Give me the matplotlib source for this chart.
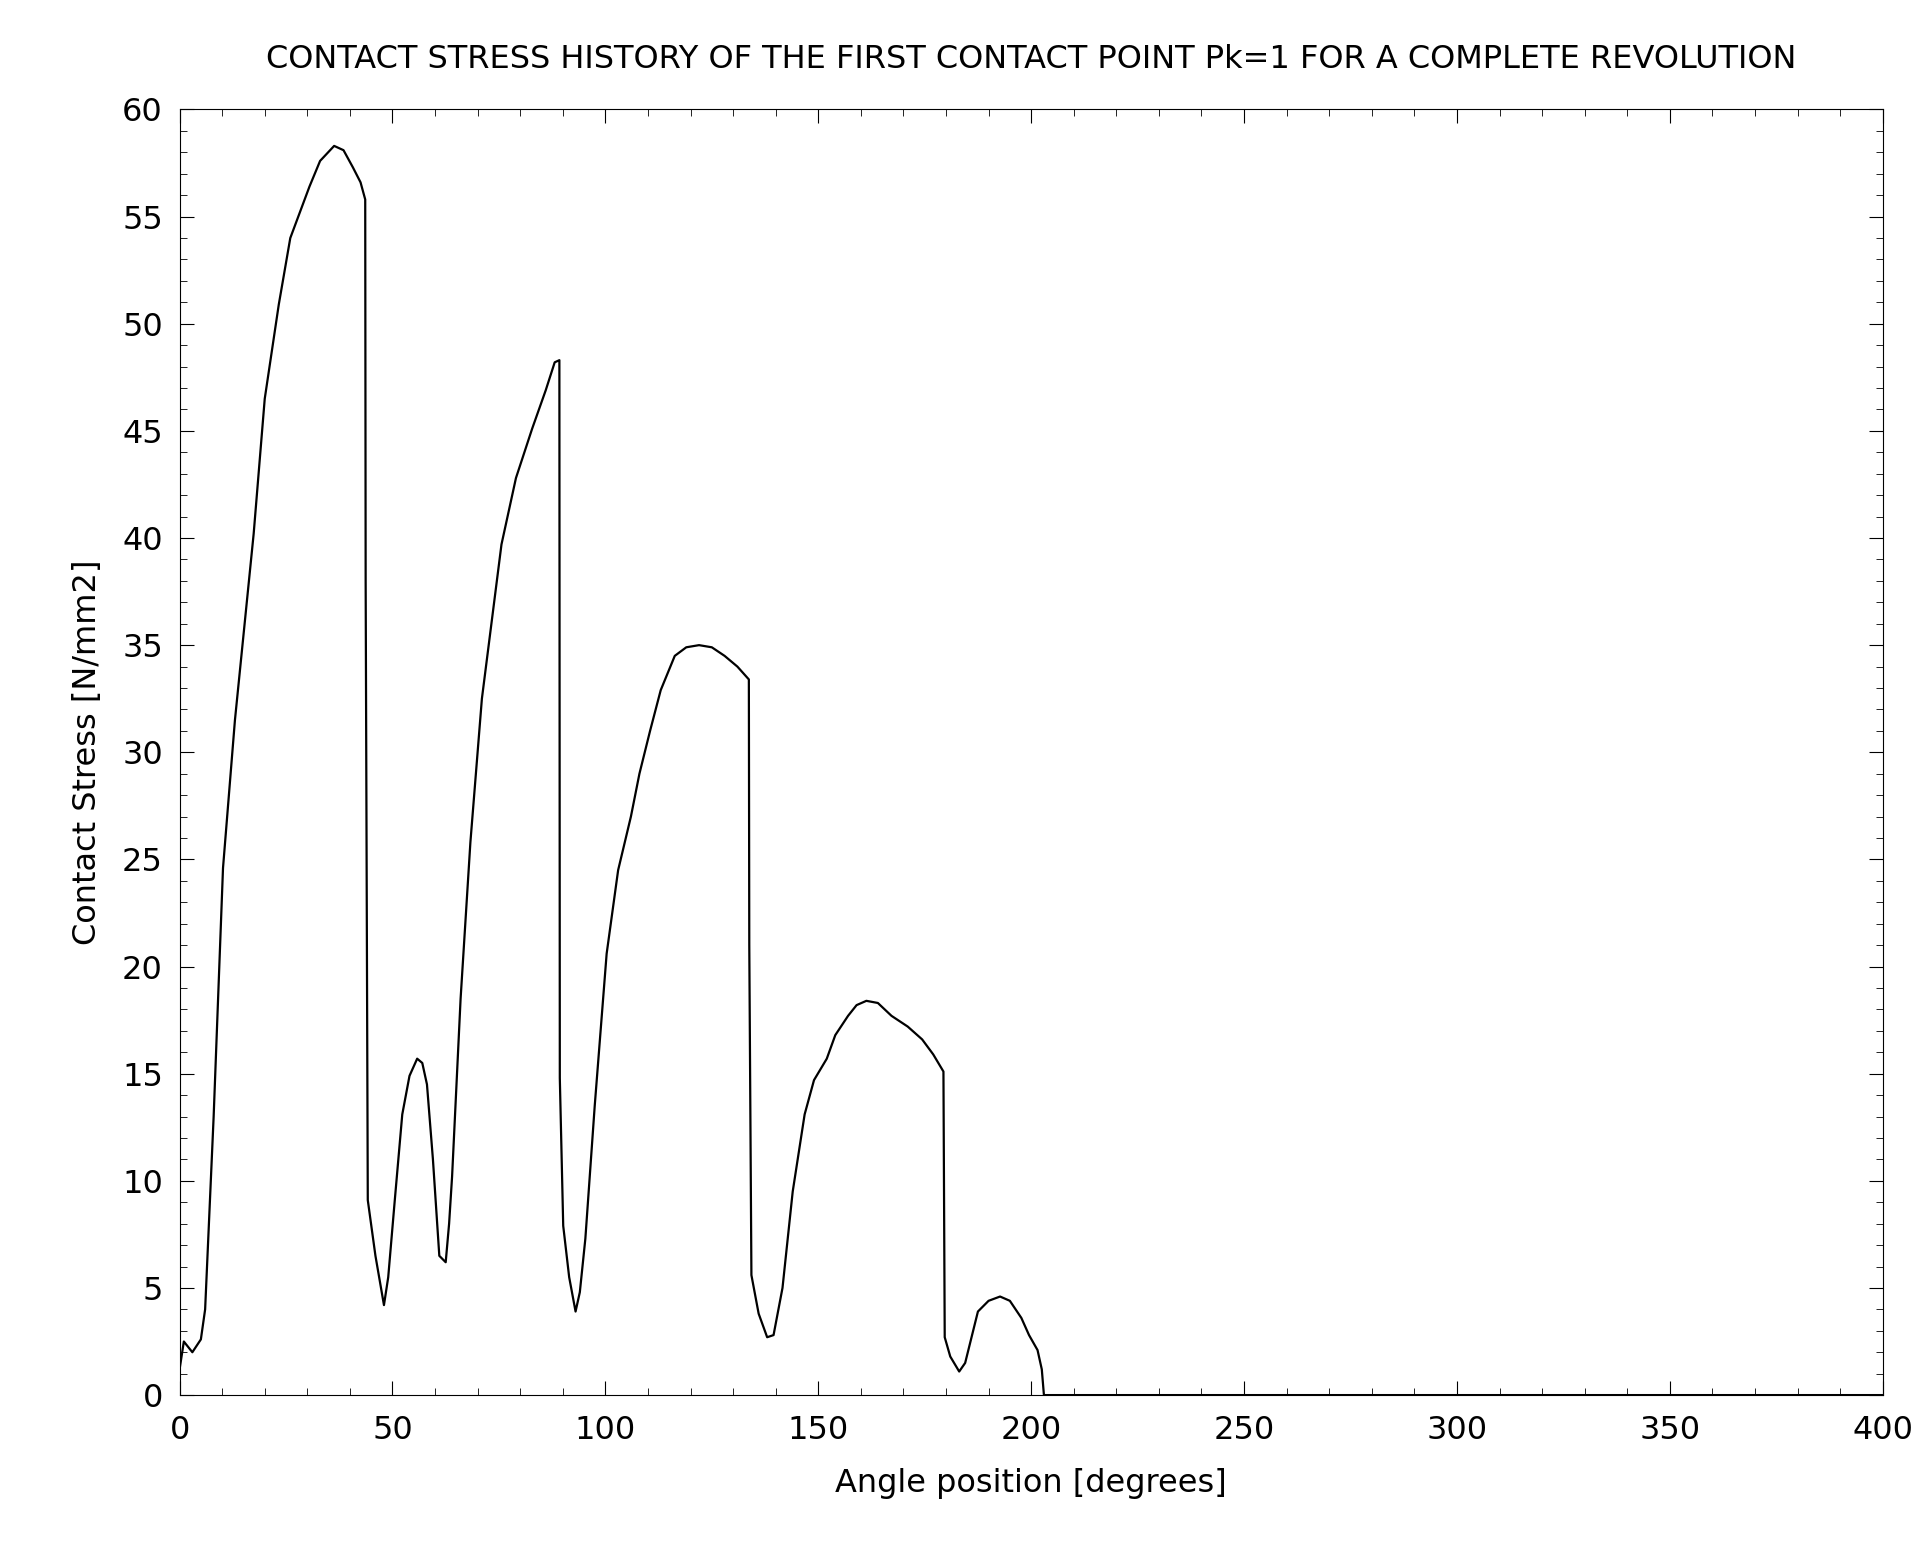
import matplotlib.pyplot as plt
from matplotlib.ticker import MultipleLocator

# angle [deg] and contact stress [N/mm2]
angle = [0, 1, 3, 5, 6, 8, 10.2, 13, 17.4, 20, 23.3, 26, 30.5, 33, 36.3, 38.5, 40.7,
         42.5, 43.6, 43.7, 44.2, 46, 48, 49, 50.5, 52.3, 54, 55.8, 57, 58.1, 59.5,
         61, 62.5, 63.3, 64, 66, 68.3, 71, 75.6, 79, 82.8, 86, 88.1, 89.2, 89.3,
         90.1, 91.5, 93, 94, 95.3, 97.5, 100.3, 103, 106, 108, 110.5, 113, 116.3,
         119, 122, 125, 128, 131, 133.7, 133.8, 134.3, 136, 138, 139.5, 141.6, 144,
         146.8, 149, 152, 154, 157, 159, 161.3, 164, 167.2, 171, 174.4, 177, 179.4,
         179.7, 181, 183.1, 184.5, 187.5, 190, 192.7, 195, 197.7, 199.5, 201.5,
         202.5, 203, 250, 300, 350, 400]
stress = [1.2, 2.5, 2.0, 2.6, 4.0, 13.0, 24.6, 31.5, 40.2, 46.5, 50.9, 54.0, 56.4, 57.6,
          58.3, 58.1, 57.3, 56.6, 55.8, 38.0, 9.1, 6.5, 4.2, 5.5, 9.0, 13.1, 14.9, 15.7,
          15.5, 14.5, 11.0, 6.5, 6.2, 8.0, 10.2, 18.5, 25.8, 32.5, 39.7, 42.8, 45.1, 46.9,
          48.2, 48.3, 14.8, 7.9, 5.5, 3.9, 4.8, 7.3, 13.5, 20.6, 24.5, 27.0, 29.0, 31.0,
          32.9, 34.5, 34.9, 35.0, 34.9, 34.5, 34.0, 33.4, 21.0, 5.6, 3.8, 2.7, 2.8, 5.0,
          9.5, 13.1, 14.7, 15.7, 16.8, 17.7, 18.2, 18.4, 18.3, 17.7, 17.2, 16.6, 15.9,
          15.1, 2.7, 1.8, 1.1, 1.5, 3.9, 4.4, 4.6, 4.4, 3.6, 2.8, 2.1, 1.2, 0, 0, 0, 0, 0]

fig = plt.figure(figsize=(19.31, 15.64), dpi=100)
ax = fig.add_axes([0.093, 0.108, 0.882, 0.822])
ax.plot(angle, stress, color='black', linewidth=1.6)
ax.set_xlim(0, 400)
ax.set_ylim(0, 60)
ax.xaxis.set_major_locator(MultipleLocator(50))
ax.xaxis.set_minor_locator(MultipleLocator(10))
ax.yaxis.set_major_locator(MultipleLocator(5))
ax.yaxis.set_minor_locator(MultipleLocator(1))
ax.tick_params(which='both', direction='in', top=True, right=True, labelsize=23)
ax.tick_params(axis='x', pad=14)
ax.tick_params(axis='y', pad=12)
ax.tick_params(which='major', length=10)
ax.tick_params(which='minor', length=5)
ax.set_xlabel('Angle position [degrees]', fontsize=23, labelpad=16)
ax.set_ylabel('Contact Stress [N/mm2]', fontsize=23, labelpad=14)
ax.set_title('CONTACT STRESS HISTORY OF THE FIRST CONTACT POINT Pk=1 FOR A COMPLETE REVOLUTION',
             fontsize=23, pad=30)
fig.savefig('out.png', dpi=100)
